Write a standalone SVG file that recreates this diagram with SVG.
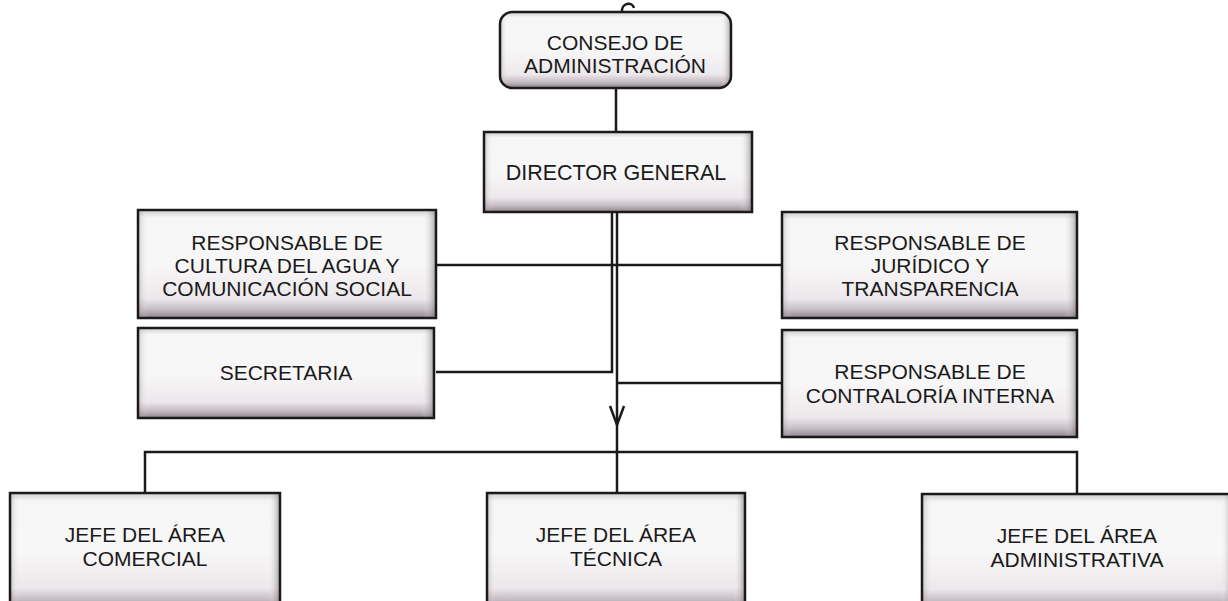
<svg xmlns="http://www.w3.org/2000/svg" width="1228" height="601" viewBox="0 0 1228 601">
  <defs>
    <linearGradient id="gv" x1="0" y1="0" x2="0" y2="1">
      <stop offset="0" stop-color="#cfcccf"/>
      <stop offset="0.07" stop-color="#f6f6f6"/>
      <stop offset="0.5" stop-color="#f8f7f8"/>
      <stop offset="0.82" stop-color="#ece8eb"/>
      <stop offset="0.92" stop-color="#c6bcc3"/>
      <stop offset="1" stop-color="#8e838b"/>
    </linearGradient>
    <linearGradient id="gh" x1="0" y1="0" x2="1" y2="0">
      <stop offset="0" stop-color="#8a8088" stop-opacity="0.4"/>
      <stop offset="0.035" stop-color="#ffffff" stop-opacity="0"/>
      <stop offset="0.955" stop-color="#ffffff" stop-opacity="0"/>
      <stop offset="1" stop-color="#6e646c" stop-opacity="0.6"/>
    </linearGradient>
  </defs>
  <style>
    .box { stroke: #1a1a1a; stroke-width: 2.5; }
    .fill { fill: url(#gv); }
    .shade { fill: url(#gh); }
    .lbl { font-family: "Liberation Sans", Arial, sans-serif; font-size: 21px; fill: #1a1a1a; text-anchor: middle; }
    .ln { fill: none; stroke: #1a1a1a; stroke-width: 2.5; }
  </style>
  <rect width="1228" height="601" fill="#ffffff"/>

  <g id="connectors">
    <path class="ln" d="M622,12 C621,3 632,1 634,8"/>
    <line class="ln" x1="616" y1="88" x2="616" y2="132"/>
    <path class="ln" d="M612,212 L612,372 L436,372"/>
    <line class="ln" x1="617" y1="212" x2="617" y2="493"/>
    <path class="ln" d="M610,406 L617,425 L624,406"/>
    <line class="ln" x1="436" y1="265" x2="782" y2="265"/>
    <line class="ln" x1="617" y1="383" x2="782" y2="383"/>
    <path class="ln" d="M145,493 L145,452 L1077,452 L1077,494"/>
  </g>

  <g id="consejo">
    <rect class="fill" x="500" y="12" width="231" height="76" rx="12"/>
    <rect class="shade box" x="500" y="12" width="231" height="76" rx="12"/>
    <text class="lbl" x="615" y="50">CONSEJO DE</text>
    <text class="lbl" x="615" y="73">ADMINISTRACIÓN</text>
  </g>

  <g id="director">
    <rect class="fill" x="484" y="132" width="268" height="80"/>
    <rect class="shade box" x="484" y="132" width="268" height="80"/>
    <text class="lbl" x="616" y="180" style="font-size:21.5px">DIRECTOR GENERAL</text>
  </g>

  <g id="cultura">
    <rect class="fill" x="138" y="210" width="298" height="108"/>
    <rect class="shade box" x="138" y="210" width="298" height="108"/>
    <text class="lbl" x="287" y="250">RESPONSABLE DE</text>
    <text class="lbl" x="287" y="273">CULTURA DEL AGUA Y</text>
    <text class="lbl" x="287" y="296">COMUNICACIÓN SOCIAL</text>
  </g>

  <g id="secretaria">
    <rect class="fill" x="138" y="328" width="296" height="90"/>
    <rect class="shade box" x="138" y="328" width="296" height="90"/>
    <text class="lbl" x="286" y="380">SECRETARIA</text>
  </g>

  <g id="juridico">
    <rect class="fill" x="782" y="212" width="295" height="106"/>
    <rect class="shade box" x="782" y="212" width="295" height="106"/>
    <text class="lbl" x="930" y="250">RESPONSABLE DE</text>
    <text class="lbl" x="930" y="273">JURÍDICO Y</text>
    <text class="lbl" x="930" y="296">TRANSPARENCIA</text>
  </g>

  <g id="contraloria">
    <rect class="fill" x="782" y="330" width="295" height="107"/>
    <rect class="shade box" x="782" y="330" width="295" height="107"/>
    <text class="lbl" x="930" y="379">RESPONSABLE DE</text>
    <text class="lbl" x="930" y="403">CONTRALORÍA INTERNA</text>
  </g>

  <g id="comercial">
    <rect class="fill" x="10" y="493" width="270" height="116"/>
    <rect class="shade box" x="10" y="493" width="270" height="116"/>
    <text class="lbl" x="145" y="542">JEFE DEL ÁREA</text>
    <text class="lbl" x="145" y="566">COMERCIAL</text>
  </g>

  <g id="tecnica">
    <rect class="fill" x="487" y="493" width="258" height="116"/>
    <rect class="shade box" x="487" y="493" width="258" height="116"/>
    <text class="lbl" x="616" y="542">JEFE DEL ÁREA</text>
    <text class="lbl" x="616" y="566">TÉCNICA</text>
  </g>

  <g id="administrativa">
    <rect class="fill" x="922" y="494" width="312" height="116"/>
    <rect class="shade box" x="922" y="494" width="312" height="116"/>
    <text class="lbl" x="1077" y="543">JEFE DEL ÁREA</text>
    <text class="lbl" x="1077" y="567">ADMINISTRATIVA</text>
  </g>
</svg>
